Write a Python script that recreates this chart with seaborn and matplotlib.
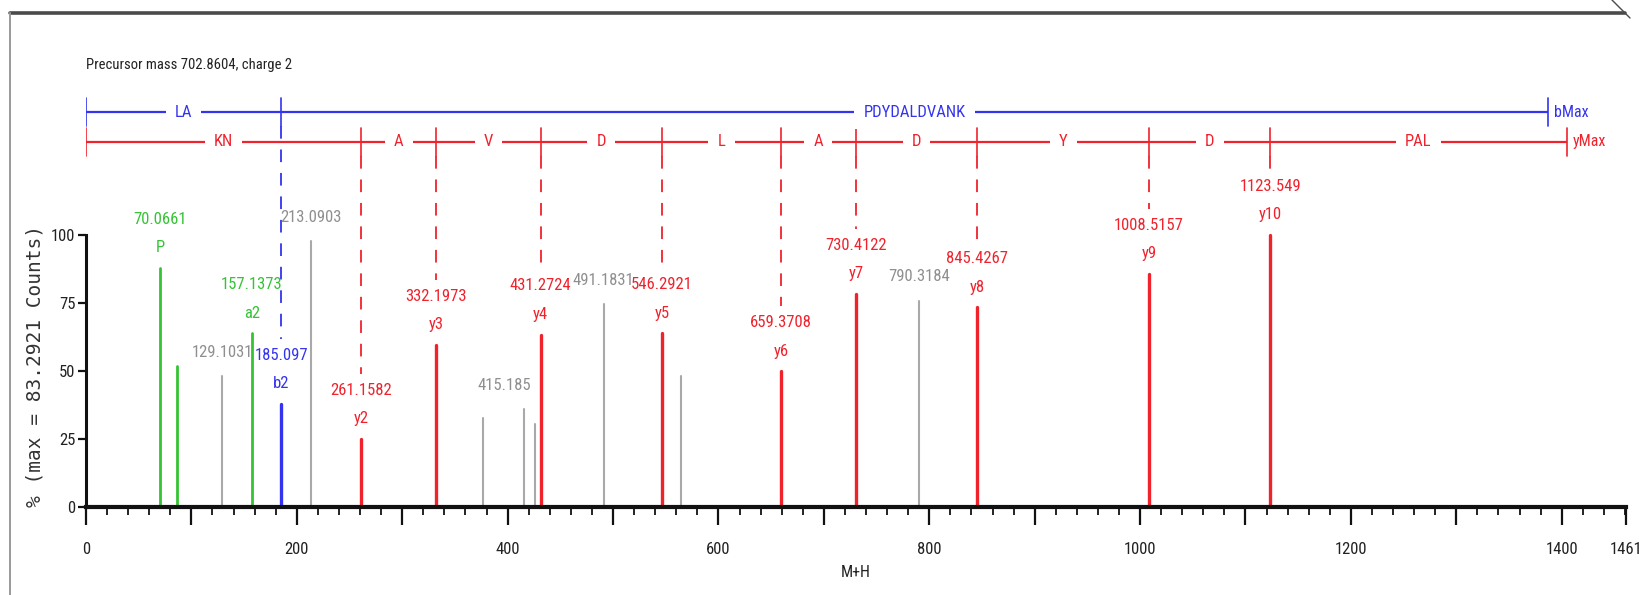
import matplotlib
matplotlib.use("Agg")
import matplotlib.pyplot as plt
from matplotlib import font_manager
from matplotlib.lines import Line2D
import pandas as pd
import seaborn as sns

# ---- spectrum data: m/z and relative intensity (% of base peak) ----
y_mz = [261.1582, 332.1973, 431.2724, 546.2921, 659.3708, 730.4122, 845.4267, 1008.5157, 1123.549]
y_int = [25.0, 59.6, 63.4, 63.8, 49.9, 78.3, 73.4, 85.7, 100.0]
y_ions = ["y2", "y3", "y4", "y5", "y6", "y7", "y8", "y9", "y10"]

b_mz = [185.097]
b_int = [37.9]
b_ions = ["b2"]

other_mz = [70.0661, 86.1, 157.1373]
other_int = [87.9, 52.0, 63.8]
other_ions = ["P", "", "a2"]

unassigned_mz = [129.1031, 213.0903, 376.2, 415.185, 426.2, 491.1831, 564.3, 790.3184]
unassigned_int = [48.0, 97.9, 32.6, 36.0, 30.5, 74.6, 48.3, 75.9]
unassigned_labeled = [True, True, False, True, False, True, False, True]

# sequence ladders read from the b and y series
b_residues = ["LA", "PDYDALDVANK"]
y_residues = ["KN", "A", "V", "D", "L", "A", "D", "Y", "D", "PAL"]

precursor_mz = 702.8604
precursor_charge = 2
base_peak_counts = 83.2921
x_max = 1461

PROTON = 1.007276
WATER = 18.010565
y_max = precursor_mz * precursor_charge - (precursor_charge - 1) * PROTON
b_max = y_max - WATER

# ---- styling ----
RED, BLUE, GREEN, GRAY = "#f0222c", "#3434ee", "#35c335", "#a9a9a9"
GRAY_TXT = "#8f8f8f"

# prefer a condensed face for the annotations when one is installed
installed = {f.name for f in font_manager.fontManager.ttflist}
condensed = [f for f in ["Roboto Condensed", "Open Sans Condensed",
                         "Liberation Sans Narrow", "Noto Sans Condensed",
                         "Arial Narrow"] if f in installed]
SANS = condensed[:1] + ["Liberation Sans", "DejaVu Sans"]
NARROW_OK = bool(condensed)
LBL = 12 if NARROW_OK else 10      # peak label size
TCK = 12 if NARROW_OK else 10.5    # tick label size

sns.set_theme(style="ticks")
plt.rcParams["font.family"] = SANS

fig = plt.figure(figsize=(16.4, 5.95), dpi=100)
ax = fig.add_axes([86 / 1640, 88 / 595, 1540 / 1640, 489.6 / 595])

# long table: each peak is a vertical stem (0 -> intensity)
groups = [("none", unassigned_mz, unassigned_int),
          ("other", other_mz, other_int),
          ("b", b_mz, b_int),
          ("y", y_mz, y_int)]
rows = []
pid = 0
for kind, mzs, ints in groups:
    for m, h in zip(mzs, ints):
        rows.append((pid, kind, m, 0.0))
        rows.append((pid, kind, m, h))
        pid += 1
peaks = pd.DataFrame(rows, columns=["peak", "kind", "mz", "pct"])

palette = {"none": GRAY, "other": GREEN, "b": BLUE, "y": RED}
widths = {"none": 1.5, "other": 2.0, "b": 2.4, "y": 2.4}
sns.lineplot(data=peaks, x="mz", y="pct", units="peak", estimator=None,
             hue="kind", palette=palette, size="kind", sizes=widths,
             sort=False, legend=False, ax=ax)

# ---- peak annotations ----


def two_line(x, h, mz_text, ion, color):
    ax.annotate(ion, (x, h), xytext=(0, 14.5), textcoords="offset points",
                ha="center", va="center", color=color, fontsize=LBL)
    ax.annotate(mz_text, (x, h), xytext=(0, 35), textcoords="offset points",
                ha="center", va="center", color=color, fontsize=LBL)


for m, h, ion in zip(y_mz, y_int, y_ions):
    two_line(m, h, str(m), ion, RED)
for m, h, ion in zip(b_mz, b_int, b_ions):
    two_line(m, h, str(m), ion, BLUE)
for m, h, ion in zip(other_mz, other_int, other_ions):
    if ion:
        two_line(m, h, str(m), ion, GREEN)

label_nudge = {415.185: -14}
for m, h, lab in zip(unassigned_mz, unassigned_int, unassigned_labeled):
    if lab:
        ax.annotate(str(m), (m, h), xytext=(label_nudge.get(m, 0), 17),
                    textcoords="offset points", ha="center", va="center",
                    color=GRAY_TXT, fontsize=LBL)

# ---- sequence ladders above the spectrum ----
B_LEVEL, Y_LEVEL, TICK = 145.2, 134.2, 5.2
DASH_GAP = 24.0


def ladder(level, bounds, residues, color, end_text, peak_int):
    ax.plot([bounds[0], bounds[-1]], [level, level], color=color, lw=1.6,
            solid_capstyle="butt", zorder=2)
    for xb in bounds:
        ax.plot([xb, xb], [level - TICK, level + TICK], color=color, lw=1.2, zorder=2)
    for x0, x1, res in zip(bounds[:-1], bounds[1:], residues):
        ax.text((x0 + x1) / 2, level, res, ha="center", va="center", color=color,
                fontsize=LBL, zorder=4,
                bbox=dict(boxstyle="square,pad=0.55", fc="white", ec="none"))
    ax.text(bounds[-1] + 6, level, end_text, ha="left", va="center",
            color=color, fontsize=LBL - 0.5)
    for xb, h in zip(bounds[1:-1], peak_int):
        ax.plot([xb, xb], [level - TICK, h + DASH_GAP], color=color, lw=1.3,
                dashes=(7, 6), zorder=2)


ladder(B_LEVEL, [0.0] + b_mz + [b_max], b_residues, BLUE, "bMax", b_int)
ladder(Y_LEVEL, [0.0] + y_mz + [y_max], y_residues, RED, "yMax", y_int)

ax.text(0, 162.5, f"Precursor mass {precursor_mz}, charge {precursor_charge}",
        ha="left", va="center", fontsize=LBL - 1.5, color="#222222")

# ---- axes ----
ax.set_xlim(0, x_max)
ax.set_ylim(0, 180)
major = list(range(0, 1401, 100)) + [x_max]
ax.set_xticks(major)
ax.set_xticklabels([str(t) if (t % 200 == 0 or t == x_max) else "" for t in major])
ax.set_xticks(range(0, x_max, 20), minor=True)
ax.set_yticks([0, 25, 50, 75, 100])
ax.tick_params(axis="x", which="major", length=13, width=1.6, labelsize=TCK,
               color="#111111", labelcolor="#222222", pad=12)
ax.tick_params(axis="x", which="minor", length=6, width=1.3, color="#111111")
ax.tick_params(axis="y", which="major", length=6, width=1.6, labelsize=TCK,
               color="#111111", labelcolor="#222222", pad=1.5)

sns.despine(ax=ax)
ax.spines["left"].set_bounds(0, 100)
ax.spines["left"].set_linewidth(2.2)
ax.spines["left"].set_color("#111111")
ax.spines["bottom"].set_bounds(0, x_max)
ax.spines["bottom"].set_linewidth(3.0)
ax.spines["bottom"].set_color("#111111")

ax.set_xlabel("M+H", fontsize=TCK - 0.5, color="#222222")
ax.xaxis.set_label_coords(0.5, -0.118)
ax.set_ylabel(f"% (max = {base_peak_counts} Counts)", fontsize=14,
              family=["DejaVu Sans Mono", "DejaVu Sans"], color="#333333")
ax.yaxis.set_label_coords(-0.027, 0.288)

# window frame around the plot
fig.add_artist(Line2D([10 / 1640, 1625 / 1640], [1 - 13 / 595] * 2,
                      color="#4a4a4a", lw=2.6, transform=fig.transFigure))
fig.add_artist(Line2D([10 / 1640] * 2, [0, 1 - 13 / 595],
                      color="#9a9a9a", lw=1.4, transform=fig.transFigure))
fig.add_artist(Line2D([1612 / 1640, 1630 / 1640], [1.0, 1 - 18 / 595],
                      color="#4a4a4a", lw=1.0, transform=fig.transFigure))

fig.savefig("out.png", dpi=100, facecolor="white")
